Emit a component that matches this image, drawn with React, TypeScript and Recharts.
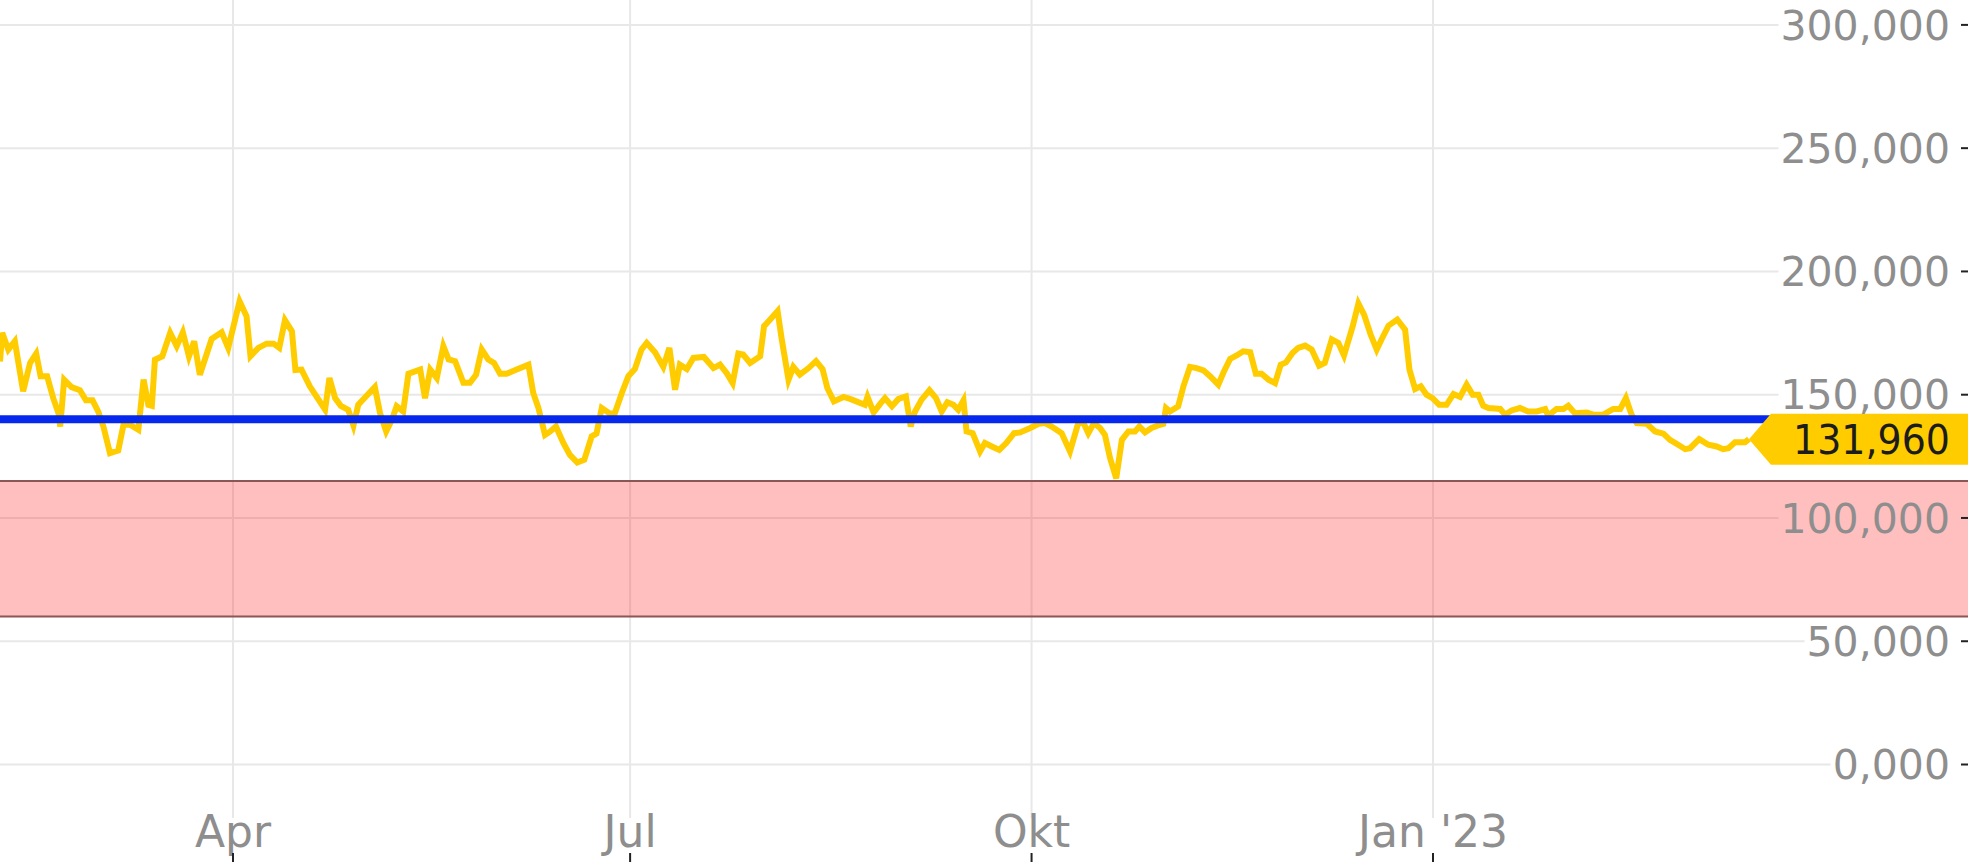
import React from "react";
import {
  LineChart, Line, XAxis, YAxis, CartesianGrid,
  ReferenceLine, ReferenceArea, ReferenceDot,
} from "recharts";

const W = 1968;
const H = 862;
const AXIS_H = 44;
const PLOT_H = H - AXIS_H;
const FONT = "'DejaVu Sans', Verdana, sans-serif";
const FS = 41;
const FS_X = 44;
const LABEL_RIGHT = 1950;
const GRID = "#e8e8e8";
const LABEL = "#8e8e8e";
const GOLD = "#ffcc00";

// days counted from 1 Jan 2022
const DAYS = [
  36.6, 37.1, 38.5, 40.0, 41.9, 43.5, 44.9, 45.9, 47.4, 48.8, 50.0, 50.4, 51.3, 53.0, 54.9, 56.3, 57.8, 59.1, 60.3, 61.8,
  63.7, 64.9, 66.4, 68.3, 69.5, 70.6, 71.4, 72.1, 73.8, 75.6, 77.1, 78.5, 79.9, 81.1, 82.4, 85.1, 87.4, 88.9, 91.5, 93.1,
  94.0, 95.8, 97.7, 99.3, 100.6, 101.9, 103.5, 104.3, 105.7, 107.6, 111.1, 112.1, 113.4, 114.7, 116.4, 117.6, 118.7, 122.5, 123.7, 125.1,
  126.4, 127.5, 129.0, 130.2, 132.9, 134.0, 135.2, 136.7, 138.2, 139.4, 140.9, 142.8, 144.3, 145.7, 147.0, 148.5, 149.8, 151.2, 152.7, 155.0,
  157.7, 158.8, 160.0, 161.5, 162.7, 164.0, 165.7, 167.2, 168.9, 170.5, 172.2, 173.3, 174.5, 176.4, 177.5, 179.1, 180.6, 182.1, 183.6, 184.8,
  186.7, 188.6, 190.0, 191.3, 192.4, 194.0, 195.5, 197.9, 200.1, 201.6, 203.1, 204.5, 205.8, 206.9, 208.5, 210.8, 211.7, 213.1, 214.8, 215.7,
  217.3, 218.4, 219.9, 221.9, 223.6, 225.1, 226.2, 227.7, 229.9, 231.4, 234.8, 235.4, 236.8, 238.3, 239.4, 241.0, 242.5, 244.2, 245.3, 246.3,
  247.8, 249.6, 251.1, 252.4, 253.7, 255.1, 256.2, 257.4, 258.1, 259.5, 261.2, 262.3, 263.9, 265.6, 267.2, 269.0, 270.4, 272.7, 274.6, 276.1,
  277.6, 279.9, 281.8, 283.7, 284.9, 286.0, 287.3, 288.7, 289.8, 291.0, 292.4, 293.7, 295.2, 296.7, 297.7, 299.0, 300.5, 302.4, 303.2, 303.8,
  304.7, 306.6, 307.8, 309.3, 310.8, 312.4, 313.9, 315.8, 317.0, 318.5, 320.0, 321.5, 323.1, 324.4, 325.7, 327.3, 328.8, 330.1, 331.3, 332.8,
  334.1, 335.7, 337.2, 338.9, 340.2, 341.8, 343.3, 344.6, 346.6, 347.9, 349.2, 350.7, 352.1, 353.2, 354.8, 356.8, 358.6, 359.6, 360.9, 362.2,
  363.5, 364.9, 366.4, 368.1, 369.7, 371.2, 372.7, 374.1, 375.4, 376.5, 377.7, 380.4, 381.5, 383.0, 384.9, 386.8, 388.8, 390.7, 391.4, 393.3,
  394.9, 396.0, 397.5, 400.2, 401.7, 404.0, 406.3, 407.9, 409.2, 410.5, 411.7, 414.0, 415.9, 417.8, 419.3, 420.8, 422.8, 423.9, 426.0, 428.1,
  430.0, 431.5, 432.7, 434.2, 436.5, 437.4,
];

const PRICES = [
  163.5, 175.1, 168.3, 171.7, 151.4, 162.9, 166.7, 157.5, 157.5, 148.6, 142.5, 137.1, 156.1, 153.1, 151.8, 147.7, 147.7, 143.2, 137.1, 126.3,
  127.4, 137.8, 137.8, 135.8, 156.1, 145.9, 145.5, 164.2, 165.6, 175.1, 169.7, 175.3, 165.6, 171.7, 158.1, 172.6, 175.3, 169.0, 187.9, 181.8,
  165.6, 169.0, 170.7, 170.7, 169.0, 180.2, 175.7, 160.0, 160.2, 153.4, 143.9, 156.8, 148.6, 145.5, 143.9, 137.5, 145.9, 153.1, 142.5, 135.1,
  139.8, 145.3, 143.2, 158.5, 160.2, 148.6, 160.2, 156.8, 169.7, 164.3, 163.6, 154.8, 154.8, 158.1, 168.3, 164.3, 162.9, 158.5, 158.5, 160.2,
  162.2, 150.7, 144.6, 133.7, 135.1, 137.1, 130.4, 125.6, 122.5, 123.6, 133.1, 134.2, 144.6, 142.3, 142.5, 150.7, 157.5, 160.4, 168.3, 171.0,
  167.2, 161.3, 169.0, 152.0, 162.2, 160.4, 164.9, 165.3, 160.8, 162.2, 158.8, 154.7, 166.7, 166.3, 162.9, 165.6, 177.8, 180.5, 183.9, 173.0,
  156.1, 161.3, 158.1, 160.8, 163.6, 160.4, 152.7, 147.3, 149.1, 148.3, 145.9, 149.1, 142.8, 146.3, 148.6, 145.3, 148.3, 149.3, 137.1, 143.2,
  148.0, 151.8, 148.6, 143.2, 146.9, 145.9, 143.9, 147.7, 135.1, 134.4, 127.0, 130.4, 129.0, 127.6, 130.4, 134.4, 134.7, 136.5, 138.2, 138.5,
  137.1, 134.4, 127.0, 138.5, 138.5, 134.4, 138.5, 136.5, 133.8, 124.2, 116.1, 131.7, 135.1, 135.1, 137.1, 134.7, 136.5, 137.8, 138.2, 144.6,
  143.2, 145.3, 153.4, 161.3, 160.8, 159.9, 157.5, 154.1, 159.1, 164.5, 165.9, 167.6, 167.2, 158.5, 158.5, 156.1, 154.7, 162.2, 163.1, 166.9,
  169.0, 169.9, 168.3, 161.8, 162.9, 172.4, 171.0, 165.9, 177.8, 187.0, 182.5, 174.4, 168.3, 172.4, 178.0, 180.5, 176.4, 160.2, 152.3, 153.4,
  150.0, 148.6, 145.9, 145.9, 150.3, 149.1, 154.1, 150.0, 150.0, 145.5, 144.6, 144.2, 141.9, 143.6, 144.6, 143.2, 143.2, 144.2, 141.5, 144.2,
  144.2, 145.5, 142.5, 142.8, 141.9, 141.9, 144.2, 144.2, 148.6, 141.9, 138.5, 138.2, 135.1, 134.2, 131.7, 130.1, 127.9, 128.3, 132.0, 129.7,
  129.0, 127.9, 128.3, 130.7, 130.7, 131.96,
];

const X_TICKS = [90, 181, 273, 365];
const X_LABELS = ["Apr", "Jul", "Okt", "Jan '23"];
const Y_TICKS = [0, 50, 100, 150, 200, 250, 300];

const X_DOMAIN: [number, number] = [36.6, 487.6];
const Y_DOMAIN: [number, number] = [-21.7, 310.1];

const BAND: [number, number] = [60, 115];
const LEVEL = 140;
const LAST_DAY = DAYS[DAYS.length - 1];
const LAST = PRICES[PRICES.length - 1];

const data = DAYS.map((d, i) => ({ d, v: PRICES[i] }));

const fmt = (v: number) => v.toFixed(3).replace(".", ",");
const textWidth = (s: string) => [...s].reduce((w, c) => w + (c === "," ? 0.318 : 0.636), 0) * FS;
const valueAtY = (y: number) => Y_DOMAIN[1] - (y / PLOT_H) * (Y_DOMAIN[1] - Y_DOMAIN[0]);

// horizontal grid stops where the right-hand label starts
const hLine = (p: any) => {
  const v = Math.round(valueAtY(p.y1) / 50) * 50;
  const end = LABEL_RIGHT - textWidth(fmt(v)) - 2;
  return <line key={`h-${p.index}`} x1={0} x2={end} y1={p.y1} y2={p.y1} stroke={GRID} strokeWidth={2} />;
};
const vLine = (p: any) => (
  <line key={`v-${p.index}`} x1={p.x1} x2={p.x1} y1={0} y2={PLOT_H} stroke={GRID} strokeWidth={2} />
);

const XTick = ({ x, payload }: any) => (
  <g>
    <text x={x} y={PLOT_H + 29} textAnchor="middle" fontFamily={FONT} fontSize={FS_X} fill={LABEL}>
      {X_LABELS[X_TICKS.indexOf(payload.value)]}
    </text>
    <line x1={x} x2={x} y1={H - 9} y2={H} stroke="#222" strokeWidth={2} />
  </g>
);

const YTick = ({ y, payload }: any) => (
  <g>
    <text x={LABEL_RIGHT} y={y} dy="0.36em" textAnchor="end" fontFamily={FONT} fontSize={FS} fill={LABEL}>
      {fmt(payload.value)}
    </text>
    <line x1={W - 7} x2={W} y1={y} y2={y} stroke="#222" strokeWidth={2} />
  </g>
);

const LastTag = ({ cx, cy }: any) => (
  <g>
    <polygon
      points={`${cx},${cy} ${cx + 22},${cy - 25.5} ${W},${cy - 25.5} ${W},${cy + 25.5} ${cx + 22},${cy + 25.5}`}
      fill={GOLD}
    />
    <text x={LABEL_RIGHT} y={cy} dy="0.36em" textAnchor="end" fontFamily={FONT} fontSize={FS}
      fill="#1c1c1c" textLength={157} lengthAdjust="spacingAndGlyphs">
      {fmt(LAST)}
    </text>
  </g>
);

export default function App() {
  return (
    <div style={{ position: "absolute", left: 0, top: 0, width: W, height: H, background: "#fff" }}>
      <LineChart width={W} height={H} data={data} margin={{ top: 0, right: 0, bottom: 0, left: 0 }}>
        <CartesianGrid syncWithTicks horizontal={hLine} vertical={vLine} />
        <ReferenceArea y1={BAND[0]} y2={BAND[1]} fill="#ff0000" fillOpacity={0.25} stroke="none" zIndex={100} />
        <ReferenceLine y={BAND[0]} stroke="#8a5656" strokeWidth={2} zIndex={110} />
        <ReferenceLine y={BAND[1]} stroke="#8a5656" strokeWidth={2} zIndex={110} />
        <Line type="linear" dataKey="v" stroke={GOLD} strokeWidth={6} dot={false} activeDot={false}
          isAnimationActive={false} zIndex={400} />
        <ReferenceLine y={LEVEL} stroke="#0528ec" strokeWidth={8} zIndex={450} />
        <ReferenceDot x={LAST_DAY} y={LAST} r={0} shape={<LastTag />} zIndex={600} />
        <XAxis dataKey="d" type="number" domain={X_DOMAIN} allowDataOverflow ticks={X_TICKS} interval={0}
          height={AXIS_H} axisLine={false} tickLine={false} tick={<XTick />} />
        <YAxis orientation="right" mirror width={80} domain={Y_DOMAIN} allowDataOverflow ticks={Y_TICKS}
          interval={0} axisLine={false} tickLine={false} tick={<YTick />} />
      </LineChart>
    </div>
  );
}
